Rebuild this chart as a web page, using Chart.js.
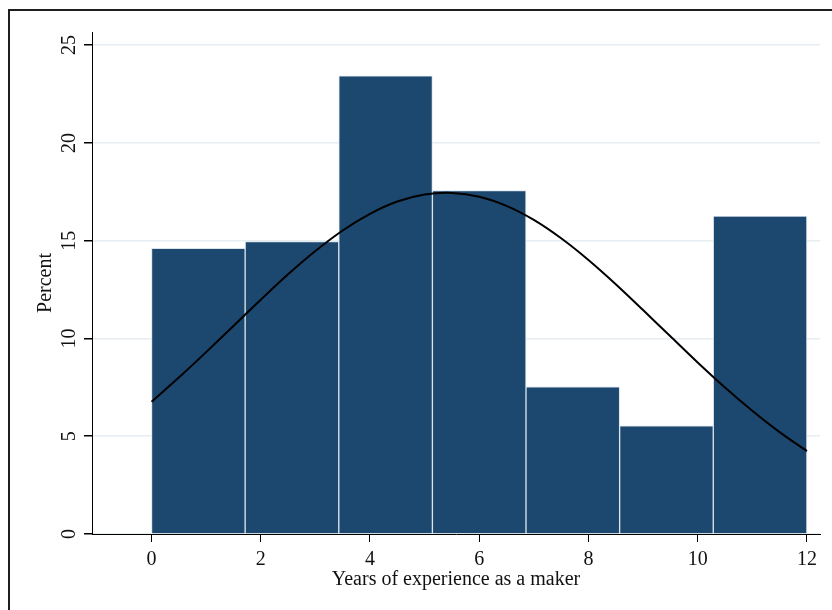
<!DOCTYPE html>
<html>
<head>
<meta charset="utf-8">
<script src="https://cdn.jsdelivr.net/npm/chart.js@4/dist/chart.umd.min.js"></script>
<style>
  html, body { margin: 0; padding: 0; background: #fff; }
  #wrap { position: relative; width: 832px; height: 610px; overflow: hidden; }
  #frame { position: absolute; left: 8px; top: 9px; width: 900px; height: 700px;
           border-left: 2px solid #1e1e1e; border-top: 2px solid #1e1e1e; pointer-events: none; }
  canvas { position: absolute; left: 0; top: 0; }
</style>
</head>
<body>
<div id="wrap">
  <canvas id="c" width="832" height="610"></canvas>
  <div id="frame"></div>
</div>
<script>
// Histogram bins (years of experience) and the share of makers in each, in percent
const binEdges = [0, 1.714, 3.429, 5.143, 6.857, 8.571, 10.286, 12];
const percents = [14.61, 14.95, 23.43, 17.56, 7.53, 5.53, 16.26];

// Normal density overlay, expressed in percent per bin
const curveX = [0, 0.5, 1, 1.5, 2, 2.5, 3, 3.5, 4, 4.5, 5, 5.5, 6, 6.5, 7, 7.5, 8, 8.5, 9, 9.5, 10, 10.5, 11, 11.5, 12];
const curveY = [6.76, 8.00, 9.30, 10.64, 11.98, 13.28, 14.47, 15.52, 16.37, 17.00, 17.36, 17.44, 17.25, 16.78, 16.06, 15.12, 14.01, 12.77, 11.45, 10.11, 8.77, 7.49, 6.30, 5.21, 4.24];

// Axis ticks
const xTicks = [0, 2, 4, 6, 8, 10, 12];
const yTicks = [0, 5, 10, 15, 20, 25];

const serif = '"Liberation Serif", "DejaVu Serif", serif';

const barData = percents.map((p, i) => ({ x: (binEdges[i] + binEdges[i + 1]) / 2, y: p }));
const lineData = curveX.map((x, i) => ({ x: x, y: curveY[i] }));

// Stata-style vertical tick labels on the y axis
const rotatedYLabels = {
  id: 'rotatedYLabels',
  afterDraw(chart) {
    const ys = chart.scales.y;
    const ctx = chart.ctx;
    ctx.save();
    ctx.font = '20px ' + serif;
    ctx.fillStyle = '#111';
    ctx.textAlign = 'center';
    ctx.textBaseline = 'middle';
    yTicks.forEach(v => {
      const py = ys.getPixelForValue(v);
      ctx.save();
      ctx.translate(70, py);
      ctx.rotate(-Math.PI / 2);
      ctx.fillText(String(v), 0, 0);
      ctx.restore();
    });
    ctx.restore();
  }
};

new Chart(document.getElementById('c'), {
  type: 'bar',
  data: {
    datasets: [
      {
        type: 'line',
        data: lineData,
        borderColor: '#000',
        borderWidth: 2,
        pointRadius: 0,
        tension: 0.3,
        fill: false,
        order: 0
      },
      {
        type: 'bar',
        data: barData,
        backgroundColor: '#1c476f',
        borderColor: '#d9e2ea',
        borderWidth: 1,
        barPercentage: 1,
        categoryPercentage: 1,
        order: 1
      }
    ]
  },
  plugins: [rotatedYLabels],
  options: {
    responsive: false,
    animation: false,
    devicePixelRatio: 1,
    layout: { padding: { top: 32, right: 12, left: 0, bottom: 0 } },
    plugins: { legend: { display: false }, tooltip: { enabled: false } },
    scales: {
      x: {
        type: 'linear',
        min: -1.09,
        max: 12.24,
        offset: false,
        afterFit(s) { s.height = 76; },
        afterBuildTicks(s) { s.ticks = xTicks.map(v => ({ value: v })); },
        ticks: {
          includeBounds: false,
          stepSize: 2,
          padding: 6,
          color: '#111',
          font: { family: serif, size: 20 },
          maxRotation: 0
        },
        grid: { offset: false, drawOnChartArea: false, drawTicks: true, tickLength: 8, tickColor: '#000' },
        border: { display: true, color: '#000', width: 1 },
        title: {
          display: true,
          text: 'Years of experience as a maker',
          color: '#111',
          font: { family: serif, size: 20 },
          padding: { top: 0, bottom: 18 }
        }
      },
      y: {
        min: 0,
        max: 25.67,
        afterFit(s) { s.width = 92; },
        afterBuildTicks(s) { s.ticks = yTicks.map(v => ({ value: v })); },
        ticks: { display: false, includeBounds: false, stepSize: 5 },
        grid: { offset: false, color: '#e6eef1', lineWidth: 1.5, drawTicks: true, tickLength: 8, tickColor: '#000' },
        border: { display: true, color: '#000', width: 1 },
        title: {
          display: true,
          text: 'Percent',
          color: '#111',
          font: { family: serif, size: 20 },
          padding: { top: 34, bottom: 0 }
        }
      }
    }
  }
});
</script>
</body>
</html>
